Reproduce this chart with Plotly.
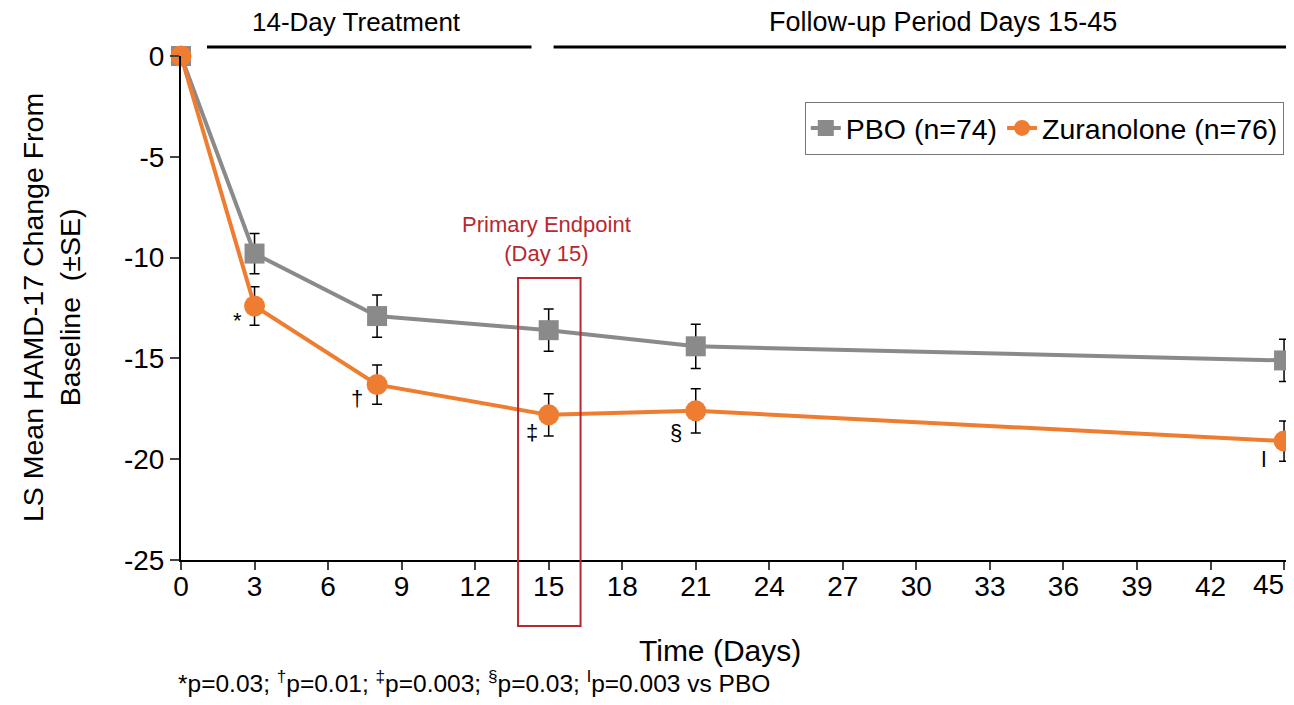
import plotly.graph_objects as go

days = [0, 3, 8, 15, 21, 45]
pbo_mean = [0, -9.8, -12.9, -13.6, -14.4, -15.1]
pbo_se = [0, 1.0, 1.05, 1.05, 1.1, 1.05]
zur_mean = [0, -12.4, -16.3, -17.8, -17.6, -19.1]
zur_se = [0, 0.95, 0.97, 1.05, 1.1, 1.0]

sig_days = [2.3, 7.2, 14.3, 20.2, 44.2]
sig_y = [-13.1, -17.0, -18.7, -18.7, -20.0]
sig_marks = ["*", "†", "‡", "§", "ǀ"]

x_ticks = list(range(0, 46, 3))
x_ticktext = [str(v) for v in x_ticks[:-1]] + [""]   # last label drawn as a text at the page edge
last_tick_label = str(x_ticks[-1])
x_max = 45.08
y_ticks = [0, -5, -10, -15, -20, -25]
y_ticktext = ["0", "-5", "-10", "-15", "-20", "-25"]

FONT = "Liberation Sans, Arial, sans-serif"
GRAY = "#8a8a8a"
ORANGE = "#ee7d31"
RED = "#b8282e"

fig = go.Figure()
fig.add_trace(go.Scatter(
    x=days, y=pbo_mean, name="PBO (n=74)", mode="lines+markers",
    line=dict(color=GRAY, width=4),
    marker=dict(symbol="square", size=20, color=GRAY),
    error_y=dict(type="data", array=pbo_se, color="black", thickness=1.5, width=5),
    cliponaxis=False,
))
fig.add_trace(go.Scatter(
    x=days, y=zur_mean, name="Zuranolone (n=76)", mode="lines+markers",
    line=dict(color=ORANGE, width=4),
    marker=dict(symbol="circle", size=21, color=ORANGE),
    error_y=dict(type="data", array=zur_se, color="black", thickness=1.5, width=5),
    cliponaxis=False,
))

annotations = []
for xd, yd, t in zip(sig_days, sig_y, sig_marks):
    annotations.append(dict(x=xd, y=yd, text=t, showarrow=False,
                            font=dict(size=22, color="black", family=FONT)))

# last x tick label, kept inside the page edge
annotations.append(dict(x=x_max, y=-0.0496, yref="paper", yanchor="middle", xanchor="right",
                        text=last_tick_label, showarrow=False,
                        font=dict(size=28, color="black", family=FONT)))
# headers
annotations.append(dict(x=7.15, y=1.067, yref="paper", yanchor="middle", text="14-Day Treatment",
                        showarrow=False, font=dict(size=26, color="black", family=FONT)))
annotations.append(dict(x=31.1, y=1.067, yref="paper", yanchor="middle", text="Follow-up Period Days 15-45",
                        showarrow=False, font=dict(size=27, color="black", family=FONT)))
# primary endpoint
annotations.append(dict(x=14.92, y=-9.1, text="Primary Endpoint<br>(Day 15)", showarrow=False,
                        font=dict(size=22, color=RED, family=FONT)))
# axis titles
annotations.append(dict(x=0.488, y=-0.1786, xref="paper", yref="paper", xanchor="center", yanchor="middle",
                        text="Time (Days)", showarrow=False,
                        font=dict(size=30, color="black", family=FONT)))
annotations.append(dict(x=-0.1176, y=0.5, xref="paper", yref="paper", xanchor="center", yanchor="middle",
                        text="LS Mean HAMD-17 Change From<br>Baseline  (±SE)", showarrow=False,
                        textangle=-90, font=dict(size=28.5, color="black", family=FONT)))
# footnote
annotations.append(dict(x=-0.0045, y=-0.2755, xref="paper", yref="paper", xanchor="left", yanchor="bottom",
                        text="*p=0.03; <sup>†</sup>p=0.01; <sup>‡</sup>p=0.003; <sup>§</sup>p=0.03; <sup>ǀ</sup>p=0.003 vs PBO",
                        showarrow=False, font=dict(size=24.5, color="black", family=FONT)))

shapes = [
    dict(type="line", xref="x", yref="paper", x0=1.06, x1=14.3, y0=1.018, y1=1.018,
         line=dict(color="black", width=3)),
    dict(type="line", xref="x", yref="paper", x0=15.2, x1=x_max, y0=1.018, y1=1.018,
         line=dict(color="black", width=3)),
    dict(type="rect", xref="x", yref="paper", x0=13.75, x1=16.3, y0=-0.131, y1=0.5595,
         line=dict(color=RED, width=2), fillcolor="rgba(0,0,0,0)"),
]

# the page body has an 8px margin: size the figure so no scrollbars appear
fig.update_layout(
    width=1278, height=689,
    margin=dict(l=173, r=0, t=48, b=137),
    paper_bgcolor="white", plot_bgcolor="white",
    font=dict(family=FONT, color="black"),
    showlegend=True,
    legend=dict(orientation="h", x=0.998, xanchor="right", y=0.909, yanchor="top",
                bordercolor="#777777", borderwidth=1, bgcolor="white",
                font=dict(size=28.5, family=FONT, color="black"),
                itemwidth=30, tracegroupgap=0),
    annotations=annotations,
    shapes=shapes,
    xaxis=dict(range=[0, x_max], tickvals=x_ticks, ticktext=x_ticktext, ticks="outside", ticklen=8,
               tickwidth=2, ticklabelstandoff=-8,
               showline=True, linecolor="black", linewidth=2, showgrid=False, zeroline=False,
               tickfont=dict(size=28, family=FONT, color="black")),
    yaxis=dict(range=[-25, 0], tickvals=y_ticks, ticktext=y_ticktext, ticks="outside", ticklen=9,
               tickwidth=2, showline=True, linecolor="black", linewidth=2, showgrid=False, zeroline=False,
               tickfont=dict(size=28, family=FONT, color="black")),
)

fig.write_html("out.html")
